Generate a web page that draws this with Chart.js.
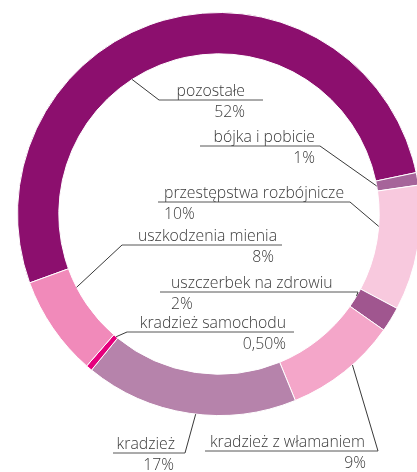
<!DOCTYPE html>
<html>
<head>
<meta charset="utf-8">
<script src="https://cdn.jsdelivr.net/npm/chart.js@4"></script>
<style>
  html, body { margin: 0; padding: 0; background: #fff; overflow: hidden; }
  #wrap { position: absolute; left: 0; top: 0; width: 440px; height: 472px; }
</style>
</head>
<body>
<div id="wrap"><canvas id="chart"></canvas></div>
<script>
// categories and values (clockwise, starting with "pozostałe")
const categories = [
  'pozostałe',
  'bójka i pobicie',
  'przestępstwa rozbójnicze',
  'uszczerbek na zdrowiu',
  'kradzież z włamaniem',
  'kradzież',
  'kradzież samochodu',
  'uszkodzenia mienia'
];
const shares = [52, 1, 10, 2, 9, 17, 0.5, 8];
const shareLabels = ['52%', '1%', '10%', '2%', '9%', '17%', '0,50%', '8%'];
const colors = ['#8c0f6e', '#a6649a', '#f8c9de', '#a0568f', '#f4a6c9', '#b683ab', '#e5007d', '#f18aba'];

// callout layout: where on the arc the leader starts (fraction of arc, inner/outer edge),
// the underline (y, x from/to, elbow side) and the two text lines
const callouts = [
  { f: 0.41, edge: 'in',  y: 100, x1: 159, x2: 263, elbow: 'l', nx: 245, na: 'right', px: 245, pa: 'right' },
  { f: 0.5,  edge: 'in',  y: 146, x1: 200, x2: 320, elbow: 'r', nx: 315, na: 'right', px: 315, pa: 'right' },
  { f: 0.35, edge: 'in',  y: 202, x1: 158, x2: 350, elbow: 'r', nx: 164, na: 'left',  px: 164, pa: 'left' },
  { f: 0.4,  edge: 'in',  y: 292, x1: 160, x2: 358, elbow: 'r', nx: 171, na: 'left',  px: 171, pa: 'left' },
  { f: 0.41, edge: 'out', y: 451, x1: 205, x2: 378, elbow: 'r', nx: 365, na: 'right', px: 366, pa: 'right' },
  { f: 0.47, edge: 'out', y: 453, x1: 113, x2: 185, elbow: 'r', nx: 175, na: 'right', px: 174, pa: 'right' },
  { f: 0.4,  edge: 'in',  y: 332, x1: 127, x2: 294, elbow: 'l', nx: 286, na: 'right', px: 286, pa: 'right' },
  { f: 0.75, edge: 'in',  y: 245, x1: 122, x2: 282, elbow: 'l', nx: 277, na: 'right', px: 274, pa: 'right' }
];

const calloutPlugin = {
  id: 'callouts',
  afterDatasetsDraw(chart) {
    const ctx = chart.ctx;
    const arcs = chart.getDatasetMeta(0).data;
    ctx.save();
    arcs.forEach((arc, i) => {
      const c = callouts[i];
      const p = arc.getProps(['x', 'y', 'startAngle', 'endAngle', 'innerRadius', 'outerRadius'], true);
      const a = p.startAngle + c.f * (p.endAngle - p.startAngle);
      const r = c.edge === 'in' ? p.innerRadius : p.outerRadius;
      const ax = p.x + Math.cos(a) * r;
      const ay = p.y + Math.sin(a) * r;
      const ex = c.elbow === 'l' ? c.x1 : c.x2;

      ctx.strokeStyle = '#222';
      ctx.lineWidth = 0.9;
      ctx.beginPath();
      ctx.moveTo(ax, ay);
      ctx.lineTo(ex, c.y);
      ctx.stroke();

      ctx.strokeStyle = '#444';
      ctx.beginPath();
      ctx.moveTo(c.x1, c.y);
      ctx.lineTo(c.x2, c.y);
      ctx.stroke();

      ctx.fillStyle = '#3a3a3a';
      ctx.font = '300 15.8px "Open Sans", sans-serif';
      ctx.textBaseline = 'alphabetic';
      ctx.textAlign = c.na;
      ctx.fillText(categories[i], c.nx, c.y - 4);
      ctx.textAlign = c.pa;
      ctx.fillText(shareLabels[i], c.px, c.y + 17);
    });
    ctx.restore();
  }
};

new Chart(document.getElementById('chart'), {
  type: 'doughnut',
  data: {
    labels: categories,
    datasets: [{
      data: shares,
      backgroundColor: colors,
      borderColor: '#ffffff',
      borderWidth: 1
    }]
  },
  options: {
    responsive: true,
    maintainAspectRatio: false,
    animation: false,
    rotation: 250,
    cutout: '79.5%',
    layout: {
      padding: { left: 17, right: 19, top: 12, bottom: 56 }
    },
    plugins: {
      legend: { display: false },
      tooltip: { enabled: false }
    }
  },
  plugins: [calloutPlugin]
});
</script>
</body>
</html>
